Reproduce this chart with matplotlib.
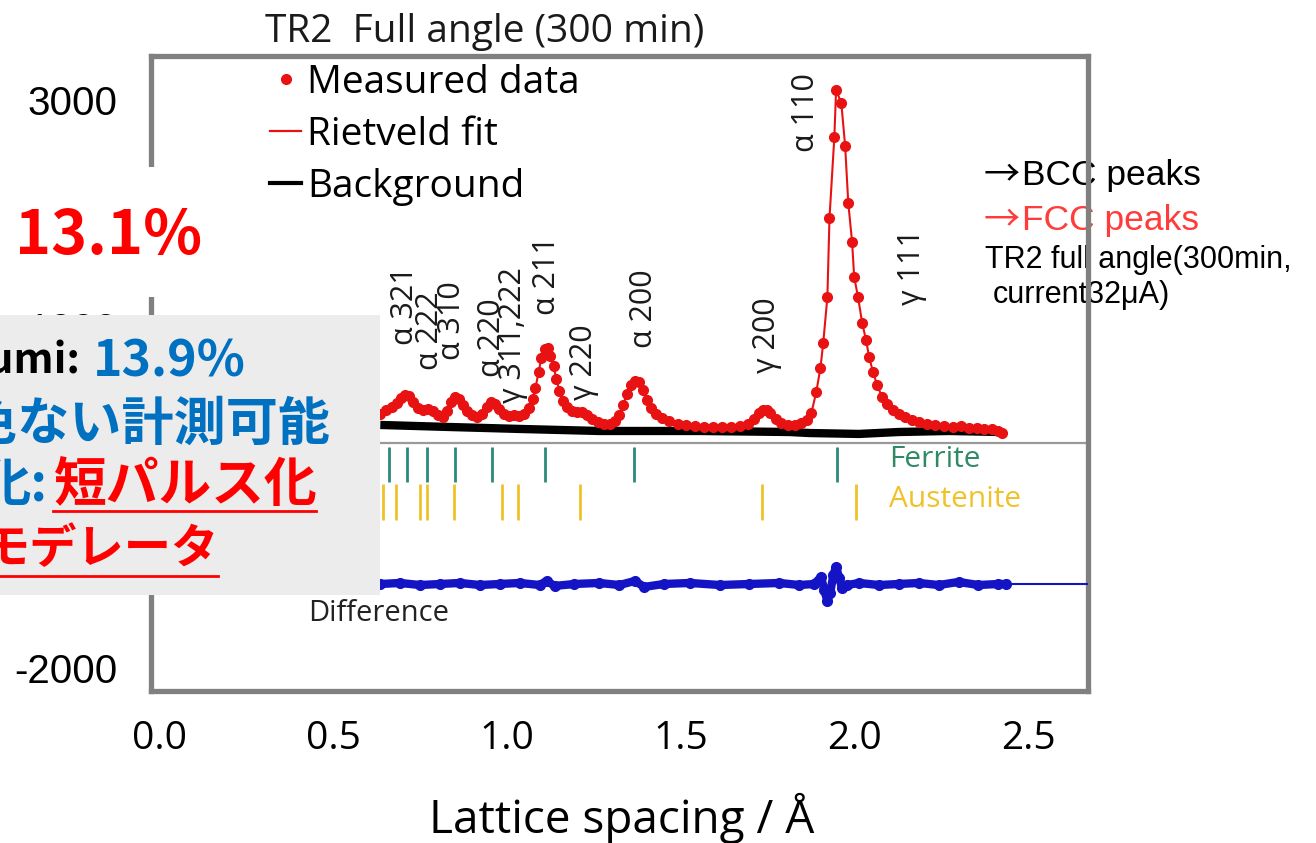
import matplotlib
matplotlib.use("Agg")
import matplotlib.pyplot as plt
from matplotlib.lines import Line2D
from matplotlib.patches import Rectangle

# ---------------- data ----------------
meas_d = [0.636, 0.653, 0.670, 0.685, 0.696, 0.707, 0.719, 0.730, 0.745, 0.759,
          0.773, 0.788, 0.802, 0.816, 0.828, 0.839, 0.851, 0.862, 0.873, 0.885,
          0.899, 0.913, 0.928, 0.942, 0.954, 0.965, 0.976, 0.991, 1.005, 1.019,
          1.034, 1.048, 1.062, 1.074, 1.082, 1.091, 1.099, 1.108, 1.117, 1.125,
          1.134, 1.142, 1.151, 1.162, 1.174, 1.188, 1.202, 1.217, 1.231, 1.245,
          1.262, 1.280, 1.297, 1.311, 1.323, 1.334, 1.345, 1.357, 1.368, 1.380,
          1.391, 1.403, 1.414, 1.428, 1.446, 1.466, 1.491, 1.514, 1.540, 1.566,
          1.592, 1.617, 1.643, 1.669, 1.692, 1.709, 1.723, 1.735, 1.746, 1.757,
          1.772, 1.789, 1.809, 1.829, 1.846, 1.863, 1.875, 1.889, 1.901, 1.909,
          1.921, 1.927, 1.941, 1.946, 1.961, 1.972, 1.981, 1.992, 1.998, 2.009,
          2.021, 2.032, 2.041, 2.052, 2.064, 2.078, 2.092, 2.109, 2.126, 2.144,
          2.164, 2.184, 2.207, 2.229, 2.255, 2.281, 2.304, 2.327, 2.350, 2.372,
          2.395, 2.412, 2.424]
meas_I = [238, 273, 299, 335, 379, 405, 396, 343, 290, 273,
          282, 264, 229, 211, 264, 343, 387, 370, 317, 264,
          229, 211, 238, 299, 343, 326, 282, 238, 220, 229,
          220, 238, 290, 370, 467, 607, 731, 810, 819, 748,
          660, 546, 440, 352, 299, 264, 255, 255, 229, 194,
          167, 150, 150, 176, 229, 317, 414, 493, 528, 519,
          449, 361, 290, 238, 202, 176, 150, 141, 132, 123,
          123, 123, 123, 132, 150, 194, 246, 273, 273, 246,
          194, 158, 141, 141, 158, 185, 246, 431, 643, 863,
          1268, 1963, 2676, 3090, 2975, 2597, 2095, 1752, 1444, 1268,
          1039, 889, 740, 607, 493, 387, 326, 273, 238, 211,
          185, 167, 150, 141, 132, 123, 132, 114, 114, 106,
          106, 88, 70]

bg_d = [0.636, 0.836, 1.036, 1.265, 1.554, 1.812, 1.869, 2.012, 2.126, 2.269, 2.424]
bg_I = [141, 123, 106, 88, 88, 79, 70, 62, 79, 88, 79]

diff_d = [0.636, 0.693, 0.750, 0.808, 0.865, 0.922, 0.979, 1.037, 1.094, 1.114,
          1.137, 1.194, 1.265, 1.323, 1.368, 1.394, 1.451, 1.526, 1.612, 1.697,
          1.783, 1.840, 1.883, 1.903, 1.912, 1.921, 1.929, 1.938, 1.946, 1.955,
          1.963, 1.978, 2.012, 2.069, 2.126, 2.184, 2.241, 2.298, 2.355, 2.412,
          2.433]
diff_I = [-1259, -1250, -1268, -1259, -1250, -1268, -1259, -1250, -1268, -1232,
          -1276, -1259, -1250, -1268, -1232, -1285, -1259, -1250, -1268, -1259,
          -1250, -1268, -1259, -1197, -1312, -1408, -1338, -1180, -1109, -1206,
          -1294, -1268, -1250, -1268, -1259, -1250, -1268, -1241, -1268, -1259,
          -1259]
diff_tail_d = [2.433, 2.67]
diff_tail_I = [-1259, -1259]

ferrite_d = [0.662, 0.713, 0.770, 0.851, 0.956, 1.108, 1.365, 1.949]
austenite_d = [0.645, 0.682, 0.750, 0.770, 0.848, 0.985, 1.031, 1.211, 1.732, 2.003]

peak_labels = ["α 321", "α 222", "α 310", "α 220", "γ 311,222", "α 211",
               "γ 220", "α 200", "γ 200", "α 110", "γ 111"]
peak_label_d = [0.708, 0.779, 0.842, 0.956, 1.016, 1.114, 1.222, 1.394, 1.746, 1.860, 2.164]
peak_label_y = [845, 625, 713, 563, 334, 1109, 361, 818, 598, 2544, 1197]

xticks = [0.0, 0.5, 1.0, 1.5, 2.0, 2.5]
xtick_labels = ["0.0", "0.5", "1.0", "1.5", "2.0", "2.5"]
yticks = [-2000, 1000, 3000]
ytick_labels = ["-2000", "1000", "3000"]

legend_labels = ["Measured data", "Rietveld fit", "Background"]

# ---------------- styling ----------------
RED = "#e81212"
BLUE = "#1414c4"
TEAL = "#2a8a7c"
YELLOW = "#f0c22a"
JBLUE = "#0070c0"
LAT = "Open Sans"
CJK = ["Noto Sans CJK JP", "DejaVu Sans"]
ARIAL = ["Liberation Sans", "DejaVu Sans"]

W, H = 1316, 843
fig = plt.figure(figsize=(W / 100, H / 100), dpi=100)


def fx(x):
    return x / W


def fy(y):
    return 1 - y / H


ax = fig.add_axes([fx(151), fy(691), fx(1088) - fx(151), fy(56) - fy(691)])
ax.patch.set_visible(False)
ax.set_xlim(-0.023, 2.670)
ax.set_ylim(-2201, 3389)
for s in ax.spines.values():
    s.set_color("#808080")
    s.set_linewidth(3.8)

ax.set_xticks(xticks)
ax.set_xticklabels(xtick_labels, fontfamily=LAT, fontsize=28)
ax.set_yticks(yticks)
ax.set_yticklabels(ytick_labels, fontfamily="Liberation Sans", fontsize=29)
ax.tick_params(axis="x", length=0, pad=21)
ax.tick_params(axis="y", length=0, pad=24)

ax.set_xlabel("Lattice spacing / Å", fontfamily=LAT, fontsize=33)
ax.xaxis.set_label_coords((622 - 151) / (1088 - 151), (691 - 793) / 635)

# separator line
ax.axhline(-18, color="#9a9a9a", lw=1.6, zorder=1)

# background
ax.plot(bg_d, bg_I, color="black", lw=6, solid_capstyle="butt", zorder=2)
# measured data + fit
ax.plot(meas_d, meas_I, color=RED, lw=1.5, zorder=3)
ax.plot(meas_d, meas_I, ls="none", marker="o", ms=7, color=RED, zorder=3)
# difference
ax.plot(diff_tail_d, diff_tail_I, color=BLUE, lw=1.5, zorder=3)
ax.plot(diff_d, diff_I, color=BLUE, lw=6, zorder=3)
ax.plot(diff_d, diff_I, ls="none", marker="o", ms=7, color=BLUE, zorder=3)

# reflection ticks
ax.vlines(ferrite_d, -361, -53, color=TEAL, lw=2.0, zorder=3)
ax.vlines(austenite_d, -695, -378, color=YELLOW, lw=2.0, zorder=3)

ax.text(2.097, -167, "Ferrite", color="#2f8a66", fontfamily=LAT, fontsize=21.5,
        ha="left", va="center")
ax.text(2.097, -511, "Austenite", color=YELLOW, fontfamily=LAT, fontsize=21.5,
        ha="left", va="center")
ax.text(0.430, -1523, "Difference", color="#222222", fontfamily=LAT, fontsize=21,
        ha="left", va="center")

for lab, d, y in zip(peak_labels, peak_label_d, peak_label_y):
    ax.text(d, y, lab, rotation=90, ha="center", va="bottom",
            fontfamily=LAT, fontsize=22, color="#1a1a1a", zorder=4)

handles = [Line2D([], [], ls="none", marker="o", ms=7, color=RED),
           Line2D([], [], color=RED, lw=1.6),
           Line2D([], [], color="black", lw=3)]
ax.legend(handles, legend_labels, loc="upper left",
          bbox_to_anchor=(fx(270), fy(64)), bbox_transform=fig.transFigure,
          frameon=False, prop={"family": LAT, "size": 28},
          handlelength=0.8, handletextpad=0.15, labelspacing=0.36,
          borderpad=0, borderaxespad=0)

# title
fig.text(fx(265), fy(32), "TR2  Full angle (300 min)", fontfamily=LAT,
         fontsize=28, ha="left", va="center", color="#1a1a1a")

# right-side notes (behind the axes frame)
fig.text(fx(984), fy(185), "→", family=CJK, fontsize=26,
         color="black", va="baseline", ha="left", zorder=-1)
fig.text(fx(1022), fy(185), "BCC peaks", family=ARIAL,
         fontsize=25.5, color="black", va="baseline", ha="left", zorder=-1)
fig.text(fx(984), fy(230), "→", family=CJK, fontsize=26,
         color="#ff3b3b", va="baseline", ha="left", zorder=-1)
fig.text(fx(1022), fy(230), "FCC peaks", family=ARIAL,
         fontsize=25.5, color="#ff3b3b", va="baseline", ha="left", zorder=-1)
fig.text(fx(985), fy(268), "TR2 full angle(300min,", family=ARIAL,
         fontsize=22, color="black", va="baseline", ha="left", zorder=-1)
fig.text(fx(993), fy(303), "current32μA)", family=ARIAL,
         fontsize=22, color="black", va="baseline", ha="left", zorder=-1)

# overlay boxes
fig.add_artist(Rectangle((fx(0), fy(297)), fx(232), fy(167) - fy(297),
                         transform=fig.transFigure, facecolor="white",
                         edgecolor="none", zorder=5))
fig.add_artist(Rectangle((fx(0), fy(595)), fx(380), fy(315) - fy(595),
                         transform=fig.transFigure, facecolor="#ececec",
                         edgecolor="none", zorder=5))

fig.text(fx(15), fy(236), "13.1%", family=CJK, fontweight="bold", fontsize=44,
         color="#ff0000", ha="left", va="center", zorder=6)

fig.text(fx(80), fy(362), "umi:", family=CJK, fontweight="bold", fontsize=30,
         color="black", ha="right", va="center", zorder=6)
fig.text(fx(93), fy(362), "13.9%", family=CJK, fontweight="bold", fontsize=36,
         color=JBLUE, ha="left", va="center", zorder=6)
fig.text(fx(-86), fy(424), "遜色ない計測可能", family=CJK, fontweight="bold",
         fontsize=37.5, color=JBLUE, ha="left", va="center", zorder=6)
fig.text(fx(48), fy(485), "化:", family=CJK, fontweight="bold", fontsize=37,
         color=JBLUE, ha="right", va="center", zorder=6)
fig.text(fx(53), fy(485), "短パルス化", family=CJK, fontweight="bold", fontsize=38,
         color="#ff0000", ha="left", va="center", zorder=6)
fig.text(fx(-17), fy(549), "モデレータ", family=CJK, fontweight="bold", fontsize=34,
         color="#ff0000", ha="left", va="center", zorder=6)
fig.add_artist(Line2D([fx(53), fx(316)], [fy(511), fy(511)], color="#ff0000",
                      lw=2, transform=fig.transFigure, zorder=6))
fig.add_artist(Line2D([fx(0), fx(218)], [fy(576), fy(576)], color="#ff0000",
                      lw=2, transform=fig.transFigure, zorder=6))

fig.savefig("out.png", dpi=100)
